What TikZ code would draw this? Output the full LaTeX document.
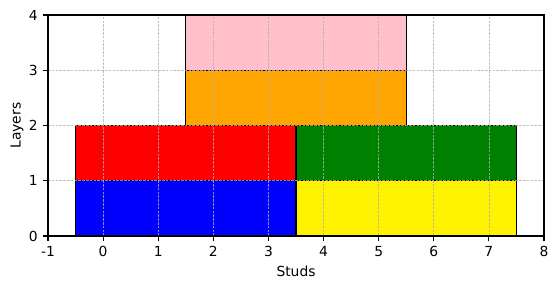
\documentclass[tikz,border=0pt]{standalone}
\usepackage{fontspec}
\setmainfont{DejaVu Sans}
\usepackage{tikz}
\usetikzlibrary{
  positioning,
  calc
}
\definecolor{mplgreen}{RGB}{0,128,0}
\definecolor{mplorange}{RGB}{255,165,0}
\definecolor{mplpink}{RGB}{255,192,203}
\definecolor{mplgrid}{RGB}{176,176,176}
\tikzset{
  brick/.style={
    draw=black, line width=1.3bp
  },
  gridline/.style={
    draw=mplgrid, draw opacity=0.8, line width=0.7bp,
    dash pattern=on 2.6bp off 1.2bp
  },
  spine/.style={
    draw=black, line width=1.1bp
  },
  tick/.style={
    draw=black, line width=1.1bp
  },
  ticklabel/.style={
    font=\fontsize{13.9}{16}\selectfont, inner sep=0pt
  },
  axislabel/.style={
    font=\fontsize{13.9}{16}\selectfont, inner sep=0pt
  }
}

\begin{document}
\begin{tikzpicture}[x=55.11bp, y=55.25bp]

\useasboundingbox (-1.871,-0.959) rectangle (8.254,4.2715);

% Bricks
\foreach \xa/\ya/\xb/\yb/\col in {
  -0.5/0/3.5/1/blue, 3.5/0/7.5/1/yellow,
  -0.5/1/3.5/2/red, 3.5/1/7.5/2/mplgreen,
  1.5/2/5.5/3/mplorange, 1.5/3/5.5/4/mplpink}
  \filldraw[brick, fill=\col] (\xa,\ya) rectangle (\xb,\yb);

% Grid
\foreach \gx in {-1,...,8}
  \draw[gridline] (\gx,0) -- (\gx,4);
\foreach \gy in {0,...,4}
  \draw[gridline] (-1,\gy) -- (8,\gy);

% Axes frame
\draw[spine] (-1,0) rectangle (8,4);

% Ticks
\foreach \gx in {-1,...,8} {
  \draw[tick] (\gx,0) -- ++(0,-4.9bp);
  \node[ticklabel, anchor=north] (xt\gx) at ($(\gx,0)+(0,-10bp)$) {\gx};
}
\foreach \gy in {0,...,4} {
  \draw[tick] (-1,\gy) -- ++(-4.9bp,0);
  \node[ticklabel, anchor=east] (yt\gy) at ($(-1,\gy)+(-10bp,0)$) {\gy};
}

% Axis labels
\node[axislabel] (xlabel) at ($(3.5,0)+(0,-35bp)$) {Studs};
\node[axislabel, rotate=90] (ylabel) at ($(-1,2)+(-31bp,0)$) {Layers};

\end{tikzpicture}
\end{document}
